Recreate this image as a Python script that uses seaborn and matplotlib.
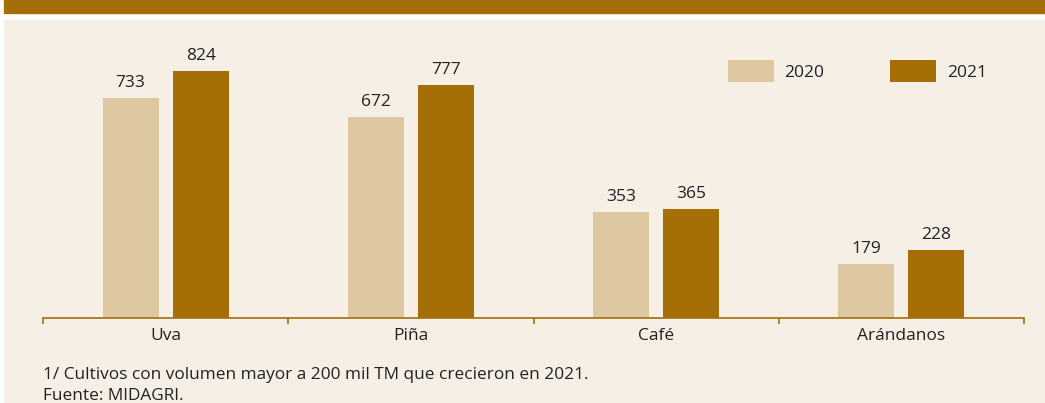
import matplotlib
matplotlib.use("Agg")
import matplotlib.pyplot as plt
from matplotlib.patches import Rectangle
import numpy as np
import pandas as pd
import seaborn as sns

# Data
cultivos = ["Uva", "Piña", "Café", "Arándanos"]
anios = ["2020", "2021"]
vol_2020 = [733, 672, 353, 179]
vol_2021 = [824, 777, 365, 228]
nota = "1/ Cultivos con volumen mayor a 200 mil TM que crecieron en 2021."
fuente = "Fuente: MIDAGRI."

LIGHT = "#DCC7A0"
DARK = "#A56E07"
CREAM = "#F6EFE6"
TXT = "#222222"

df = pd.DataFrame({
    "cultivo": cultivos * 2,
    "anio": [anios[0]] * len(cultivos) + [anios[1]] * len(cultivos),
    "valor": vol_2020 + vol_2021,
})

sns.set_style("white")
plt.rcParams["font.family"] = ["Open Sans", "DejaVu Sans"]

W, H = 1045, 403
fig = plt.figure(figsize=(W / 100, H / 100), dpi=100, facecolor="white")
# header bar and cream panel
fig.patches.append(Rectangle((4 / W, 1 - 13 / H), 1, 13 / H, transform=fig.transFigure,
                             color=DARK, zorder=0))
fig.patches.append(Rectangle((4 / W, 0), 1, 1 - 20 / H, transform=fig.transFigure,
                             color=CREAM, zorder=0))

ax_top, ax_bot = 30, 318
ax = fig.add_axes([43 / W, 1 - ax_bot / H, (1024 - 43) / W, (ax_bot - ax_top) / H])
ax.set_facecolor("none")
ax.set_zorder(2)

sns.barplot(data=df, x="cultivo", y="valor", hue="anio", palette=[LIGHT, DARK],
            width=0.571, gap=0.2, saturation=1, linewidth=0, ax=ax)

for cont in ax.containers:
    ax.bar_label(cont, fmt="%d", padding=5, fontsize=12.5, color=TXT)

ax.set_xlim(-0.5, len(cultivos) - 0.5)
ax.set_ylim(0, (ax_bot - ax_top) / (247 / 824))
ax.set_xlabel("")
ax.set_ylabel("")
ax.set_yticks([])
for s in ["top", "right", "left"]:
    ax.spines[s].set_visible(False)
ax.spines["bottom"].set_color(DARK)
ax.spines["bottom"].set_linewidth(1.2)
ax.set_xticks(range(len(cultivos)))
ax.set_xticklabels(cultivos, fontsize=12.5, color=TXT)
ax.tick_params(axis="x", which="major", length=0, pad=7)
ax.set_xticks(np.arange(-0.5, len(cultivos)), minor=True)
ax.tick_params(axis="x", which="minor", bottom=True, length=4, width=1.2, color=DARK,
               direction="out")

leg = ax.legend(loc="upper left", bbox_to_anchor=((728 - 43) / (1024 - 43), (ax_bot - 60) / (ax_bot - ax_top)),
                ncol=2, frameon=False, fontsize=12.5, handlelength=2.65, handleheight=1.6,
                handletextpad=0.6, columnspacing=3.8, labelcolor=TXT, borderaxespad=0,
                borderpad=0)
for h in leg.legend_handles:
    h.set_linewidth(0)

fig.text(43 / W, 1 - 379 / H, nota, fontsize=12.4, color=TXT, va="baseline")
fig.text(43 / W, 1 - 400 / H, fuente, fontsize=12.4, color=TXT, va="baseline")

plt.savefig("out.png", dpi=100, facecolor=fig.get_facecolor())
plt.close()
